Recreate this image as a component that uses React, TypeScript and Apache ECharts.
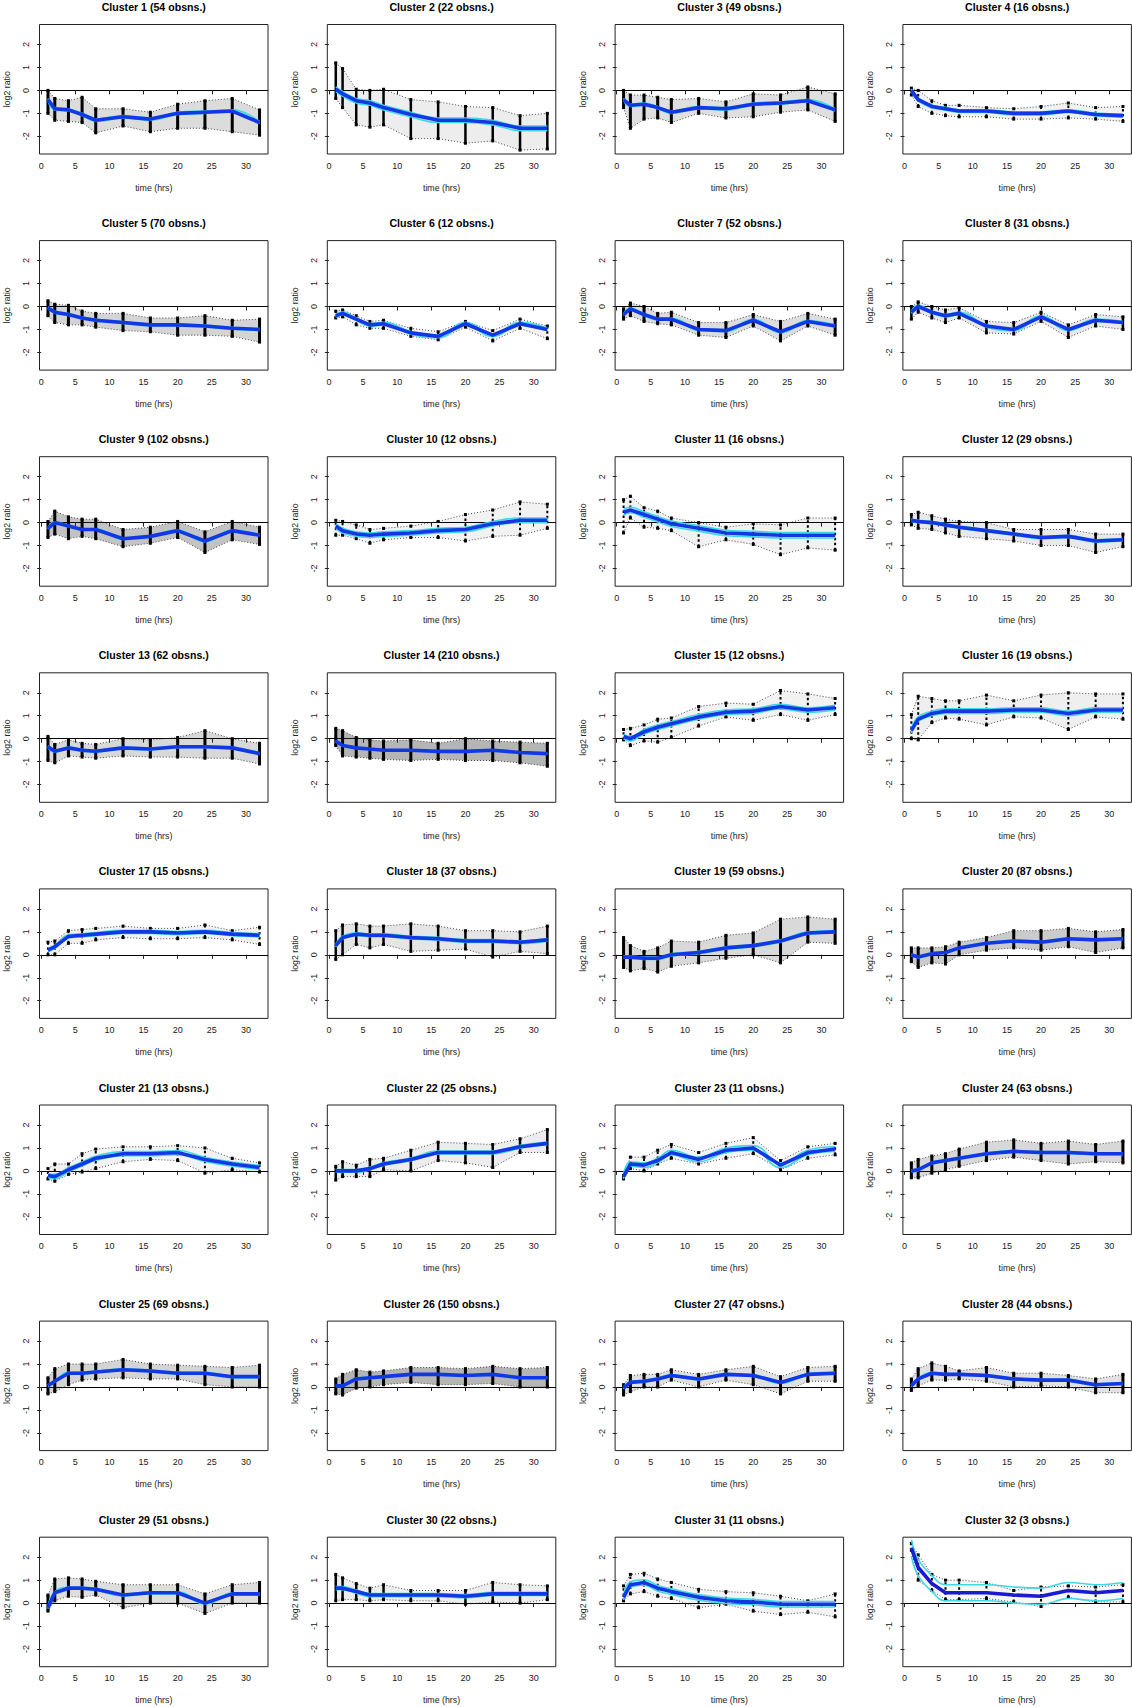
import React, { useEffect, useRef } from "react";
import * as echarts from "echarts";

const TIMES = [1, 2, 4, 6, 8, 12, 16, 20, 24, 28, 32];
const X_TICKS = [0, 5, 10, 15, 20, 25, 30];
const Y_TICKS = [-2, -1, 0, 1, 2];

const CLUSTER_SIZES = [54, 22, 49, 16, 70, 12, 52, 31, 102, 12, 16, 29, 62, 210, 12, 19, 15, 37, 59, 87, 13, 25, 11, 63, 69, 150, 47, 44, 51, 22, 11, 3];

const MEAN_VALUES = [
  [-0.4, -0.8, -0.85, -1.05, -1.3, -1.15, -1.25, -1.0, -0.95, -0.9, -1.4],
  [0.05, -0.15, -0.45, -0.55, -0.75, -1.05, -1.3, -1.3, -1.4, -1.65, -1.65],
  [-0.4, -0.65, -0.6, -0.75, -0.95, -0.75, -0.8, -0.6, -0.55, -0.45, -0.85],
  [0.0, -0.4, -0.7, -0.8, -0.9, -0.9, -1.0, -1.0, -0.9, -1.05, -1.1],
  [-0.05, -0.25, -0.35, -0.5, -0.6, -0.7, -0.8, -0.8, -0.85, -0.95, -1.0],
  [-0.4, -0.3, -0.55, -0.8, -0.75, -1.15, -1.3, -0.75, -1.25, -0.75, -1.0],
  [-0.35, -0.1, -0.35, -0.55, -0.55, -1.0, -1.05, -0.6, -1.1, -0.65, -0.85],
  [-0.25, 0.0, -0.25, -0.4, -0.3, -0.85, -1.0, -0.45, -1.0, -0.6, -0.7],
  [-0.25, 0.0, -0.15, -0.3, -0.3, -0.7, -0.6, -0.35, -0.8, -0.35, -0.55],
  [-0.15, -0.35, -0.5, -0.55, -0.5, -0.45, -0.35, -0.3, -0.05, 0.1, 0.1],
  [0.45, 0.55, 0.35, 0.15, -0.05, -0.25, -0.45, -0.5, -0.55, -0.55, -0.55],
  [0.1, 0.05, 0.0, -0.1, -0.2, -0.35, -0.5, -0.65, -0.6, -0.8, -0.75],
  [-0.35, -0.55, -0.4, -0.5, -0.55, -0.4, -0.45, -0.35, -0.35, -0.4, -0.65],
  [-0.1, -0.3, -0.4, -0.45, -0.5, -0.5, -0.55, -0.55, -0.5, -0.6, -0.65],
  [0.1, 0.0, 0.3, 0.5, 0.65, 0.95, 1.15, 1.2, 1.4, 1.25, 1.35],
  [0.35, 0.85, 1.1, 1.2, 1.2, 1.2, 1.25, 1.25, 1.1, 1.25, 1.25],
  [0.2, 0.35, 0.8, 0.85, 0.9, 1.0, 1.0, 0.95, 1.0, 0.9, 0.85],
  [0.4, 0.75, 0.9, 0.85, 0.85, 0.75, 0.7, 0.6, 0.6, 0.55, 0.65],
  [-0.1, -0.1, -0.15, -0.15, 0.0, 0.1, 0.3, 0.4, 0.6, 0.95, 1.0],
  [0.0, -0.1, 0.05, 0.1, 0.3, 0.5, 0.6, 0.55, 0.7, 0.65, 0.7],
  [-0.2, -0.25, 0.05, 0.3, 0.55, 0.75, 0.75, 0.8, 0.5, 0.3, 0.15],
  [0.0, 0.0, 0.0, 0.1, 0.3, 0.5, 0.8, 0.8, 0.8, 1.05, 1.2],
  [-0.25, 0.3, 0.25, 0.45, 0.8, 0.5, 0.9, 1.0, 0.25, 0.8, 0.95],
  [0.0, 0.05, 0.35, 0.45, 0.55, 0.75, 0.85, 0.8, 0.8, 0.75, 0.75],
  [0.05, 0.25, 0.6, 0.6, 0.65, 0.75, 0.7, 0.6, 0.6, 0.45, 0.45],
  [0.05, 0.05, 0.35, 0.4, 0.45, 0.55, 0.55, 0.5, 0.55, 0.4, 0.4],
  [-0.05, 0.2, 0.25, 0.35, 0.5, 0.35, 0.55, 0.5, 0.2, 0.55, 0.6],
  [0.05, 0.35, 0.6, 0.55, 0.55, 0.5, 0.35, 0.3, 0.3, 0.1, 0.15],
  [-0.2, 0.45, 0.65, 0.65, 0.6, 0.35, 0.45, 0.45, 0.0, 0.4, 0.4],
  [0.65, 0.65, 0.5, 0.35, 0.35, 0.35, 0.35, 0.3, 0.4, 0.4, 0.4],
  [0.25, 0.8, 0.9, 0.65, 0.5, 0.25, 0.1, 0.05, -0.05, -0.05, -0.05],
  [2.4, 1.55, 0.85, 0.45, 0.45, 0.45, 0.35, 0.3, 0.55, 0.45, 0.55],
];

const HIGH_VALUES = [
  [0.0, -0.35, -0.45, -0.3, -0.8, -0.8, -0.95, -0.6, -0.45, -0.35, -0.85],
  [1.2, 0.95, 0.05, 0.0, 0.05, -0.4, -0.5, -0.7, -0.75, -1.1, -1.0],
  [0.0, -0.2, -0.2, -0.3, -0.4, -0.35, -0.5, -0.15, -0.2, 0.15, -0.15],
  [0.1, 0.0, -0.45, -0.65, -0.65, -0.75, -0.8, -0.7, -0.55, -0.75, -0.7],
  [0.25, 0.1, 0.05, -0.2, -0.3, -0.3, -0.5, -0.5, -0.4, -0.6, -0.55],
  [-0.2, -0.15, -0.4, -0.65, -0.6, -0.95, -1.1, -0.65, -1.05, -0.55, -0.85],
  [-0.1, 0.15, 0.0, -0.3, -0.25, -0.7, -0.7, -0.35, -0.65, -0.3, -0.55],
  [0.0, 0.2, 0.0, -0.15, -0.05, -0.65, -0.7, -0.25, -0.8, -0.35, -0.45],
  [0.05, 0.5, 0.25, 0.15, 0.15, -0.3, -0.2, 0.05, -0.4, 0.05, -0.2],
  [0.1, 0.05, -0.1, -0.3, -0.25, -0.15, 0.05, 0.35, 0.55, 0.9, 0.8],
  [1.0, 1.15, 0.65, 0.5, 0.2, 0.0, -0.2, -0.05, -0.1, 0.2, 0.2],
  [0.35, 0.45, 0.3, 0.15, 0.05, 0.0, -0.3, -0.3, -0.3, -0.5, -0.5],
  [0.1, -0.25, -0.05, -0.2, -0.25, 0.0, -0.05, 0.05, 0.35, 0.0, -0.2],
  [0.45, 0.35, 0.05, -0.05, -0.1, -0.05, -0.2, 0.0, -0.1, -0.15, -0.2],
  [0.4, 0.45, 0.6, 0.85, 0.9, 1.4, 1.55, 1.5, 2.1, 1.95, 1.75],
  [1.05, 1.85, 1.75, 1.65, 1.65, 1.9, 1.65, 1.9, 2.0, 1.95, 1.95],
  [0.55, 0.6, 1.05, 1.1, 1.15, 1.25, 1.15, 1.15, 1.3, 1.05, 1.2],
  [1.05, 1.3, 1.35, 1.25, 1.25, 1.35, 1.25, 1.05, 1.05, 1.0, 1.25],
  [0.75, 0.4, 0.15, 0.3, 0.6, 0.55, 0.85, 0.95, 1.55, 1.65, 1.55],
  [0.3, 0.3, 0.3, 0.35, 0.55, 0.75, 1.05, 1.05, 1.15, 1.0, 1.1],
  [0.1, 0.3, 0.3, 0.75, 0.95, 1.05, 1.05, 1.1, 1.0, 0.55, 0.35],
  [0.2, 0.4, 0.25, 0.5, 0.55, 0.9, 1.25, 1.2, 1.15, 1.4, 1.8],
  [-0.2, 0.6, 0.6, 0.9, 1.15, 0.8, 1.2, 1.45, 0.45, 1.05, 1.2],
  [0.35, 0.5, 0.65, 0.75, 0.95, 1.25, 1.35, 1.2, 1.3, 1.15, 1.3],
  [0.4, 0.8, 1.0, 1.0, 1.0, 1.2, 1.0, 0.95, 0.9, 0.85, 0.95],
  [0.35, 0.55, 0.75, 0.65, 0.7, 0.85, 0.85, 0.8, 0.9, 0.8, 0.85],
  [0.1, 0.5, 0.55, 0.55, 0.75, 0.55, 0.75, 0.9, 0.45, 0.85, 0.9],
  [0.35, 0.8, 1.05, 0.9, 0.7, 0.85, 0.6, 0.6, 0.5, 0.35, 0.55],
  [0.35, 1.05, 1.1, 1.05, 0.95, 0.8, 0.8, 0.8, 0.4, 0.8, 0.9],
  [1.25, 1.1, 0.85, 0.65, 0.8, 0.55, 0.55, 0.55, 0.9, 0.8, 0.75],
  [0.75, 1.25, 1.3, 1.05, 0.9, 0.6, 0.5, 0.45, 0.3, 0.1, 0.4],
  [2.6, 2.1, 1.25, 1.0, 1.0, 0.9, 0.55, 0.7, 0.75, 0.7, 0.8],
];

const LOW_VALUES = [
  [-1.0, -1.3, -1.35, -1.4, -1.85, -1.55, -1.8, -1.65, -1.65, -1.8, -1.95],
  [-0.35, -0.75, -1.5, -1.6, -1.5, -2.1, -2.1, -2.3, -2.2, -2.6, -2.55],
  [-0.75, -1.65, -1.25, -1.2, -1.4, -1.0, -1.2, -1.15, -0.95, -0.85, -1.35],
  [-0.2, -0.7, -1.0, -1.1, -1.15, -1.15, -1.25, -1.25, -1.2, -1.25, -1.35],
  [-0.4, -0.7, -0.8, -0.8, -0.9, -1.05, -1.1, -1.25, -1.25, -1.3, -1.55],
  [-0.5, -0.45, -0.8, -0.95, -0.95, -1.3, -1.45, -0.9, -1.5, -0.95, -1.4],
  [-0.55, -0.4, -0.65, -0.75, -0.8, -1.25, -1.35, -0.85, -1.5, -0.85, -1.25],
  [-0.55, -0.25, -0.5, -0.7, -0.5, -1.15, -1.2, -0.65, -1.35, -0.85, -1.0],
  [-0.65, -0.5, -0.7, -0.6, -0.7, -1.05, -0.9, -0.65, -1.3, -0.75, -0.95],
  [-0.55, -0.55, -0.7, -0.9, -0.75, -0.65, -0.65, -0.8, -0.6, -0.55, -0.25],
  [-0.45, 0.2, -0.2, -0.25, -0.35, -1.05, -0.75, -0.95, -1.4, -1.1, -1.2],
  [-0.1, -0.25, -0.3, -0.45, -0.6, -0.7, -0.8, -1.0, -1.0, -1.3, -1.05],
  [-0.95, -1.05, -0.75, -0.8, -0.85, -0.75, -0.8, -0.8, -0.85, -0.85, -1.1],
  [-0.3, -0.75, -0.8, -0.85, -0.9, -0.95, -0.9, -0.95, -0.95, -1.05, -1.2],
  [-0.05, -0.3, -0.1, -0.15, 0.05, 0.55, 0.95, 0.8, 1.05, 0.8, 1.05],
  [0.0, -0.05, 0.7, 0.9, 0.85, 0.6, 0.95, 0.9, 0.4, 0.95, 0.85],
  [0.0, 0.0, 0.5, 0.5, 0.65, 0.75, 0.7, 0.7, 0.75, 0.65, 0.45],
  [-0.2, 0.0, 0.45, 0.3, 0.45, 0.15, 0.2, 0.25, -0.1, 0.15, 0.05],
  [-0.55, -0.7, -0.6, -0.75, -0.5, -0.35, -0.15, 0.0, -0.35, 0.55, 0.5],
  [-0.3, -0.55, -0.35, -0.4, 0.0, 0.2, 0.3, 0.2, 0.35, 0.1, 0.3],
  [-0.35, -0.45, -0.15, -0.05, 0.1, 0.4, 0.5, 0.45, -0.1, 0.05, -0.05],
  [-0.4, -0.25, -0.25, -0.25, 0.05, 0.0, 0.45, 0.35, 0.15, 0.8, 0.8],
  [-0.35, 0.1, 0.0, 0.3, 0.55, 0.3, 0.55, 0.75, 0.05, 0.55, 0.7],
  [-0.3, -0.3, -0.1, 0.05, 0.2, 0.45, 0.6, 0.45, 0.3, 0.4, 0.35],
  [-0.3, -0.2, 0.1, 0.3, 0.35, 0.4, 0.35, 0.35, 0.1, 0.0, 0.0],
  [-0.3, -0.35, -0.05, 0.0, 0.1, 0.2, 0.1, 0.1, 0.15, 0.0, 0.0],
  [-0.35, -0.2, 0.0, 0.0, 0.3, 0.0, 0.3, 0.1, -0.3, 0.25, 0.25],
  [-0.15, 0.05, 0.3, 0.3, 0.35, 0.25, 0.0, 0.05, 0.0, -0.25, -0.25],
  [-0.35, 0.1, 0.3, 0.25, 0.35, -0.2, 0.0, 0.0, -0.45, 0.0, 0.0],
  [0.1, 0.15, 0.15, 0.1, 0.15, 0.1, 0.1, -0.05, 0.05, 0.0, 0.15],
  [0.1, 0.4, 0.5, 0.3, 0.2, -0.2, -0.05, -0.35, -0.5, -0.4, -0.6],
  [2.3, 1.0, 0.55, 0.15, 0.15, 0.2, 0.05, -0.15, 0.25, 0.05, 0.05],
];

// half-width of the cyan band drawn around each cluster mean
const BAND_HALF_WIDTHS = [0.05, 0.1, 0.05, 0.06, 0.04, 0.06, 0.04, 0.05, 0.03, 0.1, 0.12, 0.05, 0.04, 0.02, 0.1, 0.1, 0.07, 0.06, 0.05, 0.03, 0.09, 0.06, 0.1, 0.04, 0.04, 0.03, 0.04, 0.04, 0.04, 0.07, 0.12, 0.35];

const FONT = "'Liberation Sans', Arial, Helvetica, sans-serif";
const X_MIN = -0.24;
const X_MAX = 33.24;
const Y_MIN = -2.77;
const Y_MAX = 2.87;

const GRID_LEFT0 = 39.5;
const COL_STEP = 287.8;
const GRID_TOP0 = 24.5;
const ROW_STEP = 216.1;
const GRID_W = 228.5;
const GRID_H = 129.5;

function buildOption() {
  const grid: any[] = [];
  const xAxis: any[] = [];
  const yAxis: any[] = [];
  const series: any[] = [];
  const graphic: any[] = [];

  CLUSTER_SIZES.forEach((n, k) => {
    const col = k % 4;
    const row = Math.floor(k / 4);
    const left = GRID_LEFT0 + col * COL_STEP;
    const top = GRID_TOP0 + row * ROW_STEP;
    grid.push({
      left,
      top,
      width: GRID_W,
      height: GRID_H,
      show: true,
      borderColor: "#222",
      borderWidth: 1,
      backgroundColor: "transparent",
    });
    xAxis.push({
      type: "value",
      gridIndex: k,
      min: X_MIN,
      max: X_MAX,
      axisLine: { show: false },
      splitLine: { show: false },
      axisTick: { show: true, inside: false, length: 4, customValues: X_TICKS, lineStyle: { color: "#222" } },
      axisLabel: { customValues: X_TICKS, fontSize: 9, color: "#222", margin: 7, fontFamily: FONT },
      name: "time (hrs)",
      nameLocation: "middle",
      nameGap: 29,
      nameTextStyle: { fontSize: 8.8, color: "#222", fontFamily: FONT },
    });
    yAxis.push({
      type: "value",
      gridIndex: k,
      min: Y_MIN,
      max: Y_MAX,
      axisLine: { show: false },
      splitLine: { show: false },
      axisTick: { show: true, inside: false, length: 4, customValues: Y_TICKS, lineStyle: { color: "#222" } },
      axisLabel: { customValues: Y_TICKS, fontSize: 9, color: "#222", margin: 9, rotate: 90, fontFamily: FONT },
      name: "log2 ratio",
      nameLocation: "middle",
      nameGap: 28,
      nameRotate: 90,
      nameTextStyle: { fontSize: 8.8, color: "#222", fontFamily: FONT },
    });

    graphic.push({
      type: "text",
      x: left + GRID_W / 2,
      y: top - 17.5,
      style: {
        text: `Cluster ${k + 1} (${n} obsns.)`,
        font: `bold 10.6px ${FONT}`,
        fill: "#000",
        textAlign: "center",
        textVerticalAlign: "middle",
      },
    });

    const mean = MEAN_VALUES[k];
    const hi = HIGH_VALUES[k];
    const lo = LOW_VALUES[k];
    const half = BAND_HALF_WIDTHS[k];
    const alpha = Math.min(0.36, 0.03 + n * 0.0026);

    // grey cloud of individual profiles
    series.push({
      type: "custom",
      xAxisIndex: k,
      yAxisIndex: k,
      silent: true,
      clip: true,
      data: [[TIMES[0], mean[0]]],
      renderItem: (_p: any, api: any) => {
        const upper = TIMES.map((t, i) => api.coord([t, hi[i]]));
        const lower = TIMES.map((t, i) => api.coord([t, lo[i]])).reverse();
        return {
          type: "polygon",
          shape: { points: upper.concat(lower) },
          style: { fill: `rgba(50,50,50,${alpha})`, stroke: "none" },
        };
      },
      z: 1,
    });

    // stacked observation points at each time
    const barWidth = n >= 40 ? 3 : n >= 20 ? 2.5 : 2;
    series.push({
      type: "custom",
      xAxisIndex: k,
      yAxisIndex: k,
      silent: true,
      clip: true,
      data: TIMES.map((t, i) => [t, lo[i], hi[i]]),
      encode: { x: 0, y: [1, 2] },
      renderItem: (_p: any, api: any) => {
        const a = api.coord([api.value(0), api.value(1)]);
        const b = api.coord([api.value(0), api.value(2)]);
        return {
          type: "line",
          shape: { x1: a[0], y1: a[1], x2: b[0], y2: b[1] },
          style: {
            stroke: "#000",
            lineWidth: barWidth,
            lineDash: n < 20 ? [2.5, 2.5] : null,
          },
        };
      },
      z: 2,
    });

    const dotted = (vals: number[]) => ({
      type: "line",
      xAxisIndex: k,
      yAxisIndex: k,
      silent: true,
      data: TIMES.map((t, i) => [t, vals[i]]),
      symbol: "rect",
      symbolSize: 3,
      showSymbol: true,
      itemStyle: { color: "#000" },
      lineStyle: { color: "#333", width: 0.9, type: [1, 2] },
      z: 3,
    });
    series.push(dotted(hi));
    series.push(dotted(lo));

    const cyan = (sign: number) => ({
      type: "line",
      xAxisIndex: k,
      yAxisIndex: k,
      silent: true,
      smooth: 0.45,
      showSymbol: false,
      symbol: "none",
      data: TIMES.map((t, i) => [t, mean[i] + sign * half]),
      lineStyle: { color: "#3fd9e6", width: 1.6 },
      z: 4,
    });
    series.push(cyan(1));
    series.push(cyan(-1));

    series.push({
      type: "line",
      xAxisIndex: k,
      yAxisIndex: k,
      silent: true,
      showSymbol: false,
      symbol: "none",
      data: TIMES.map((t, i) => [t, mean[i]]),
      lineStyle: { color: n < 5 ? "#1a1ad0" : "#1238e6", width: 3.6 },
      markLine: {
        silent: true,
        symbol: ["none", "none"],
        label: { show: false },
        lineStyle: { color: "#000", width: 1, type: "solid" },
        data: [{ yAxis: 0 }],
        z: 0,
      },
      z: 5,
    });
  });

  return {
    animation: false,
    backgroundColor: "#fff",
    textStyle: { fontFamily: FONT },
    grid,
    xAxis,
    yAxis,
    series,
    graphic,
  };
}

export default function App() {
  const ref = useRef<HTMLDivElement>(null);
  useEffect(() => {
    if (!ref.current) return;
    const chart = echarts.init(ref.current, undefined, { renderer: "svg" });
    chart.setOption(buildOption() as any);
    return () => chart.dispose();
  }, []);
  return (
    <div
      ref={ref}
      style={{ position: "absolute", left: 0, top: 0, width: 1132, height: 1707, background: "#fff" }}
    />
  );
}
